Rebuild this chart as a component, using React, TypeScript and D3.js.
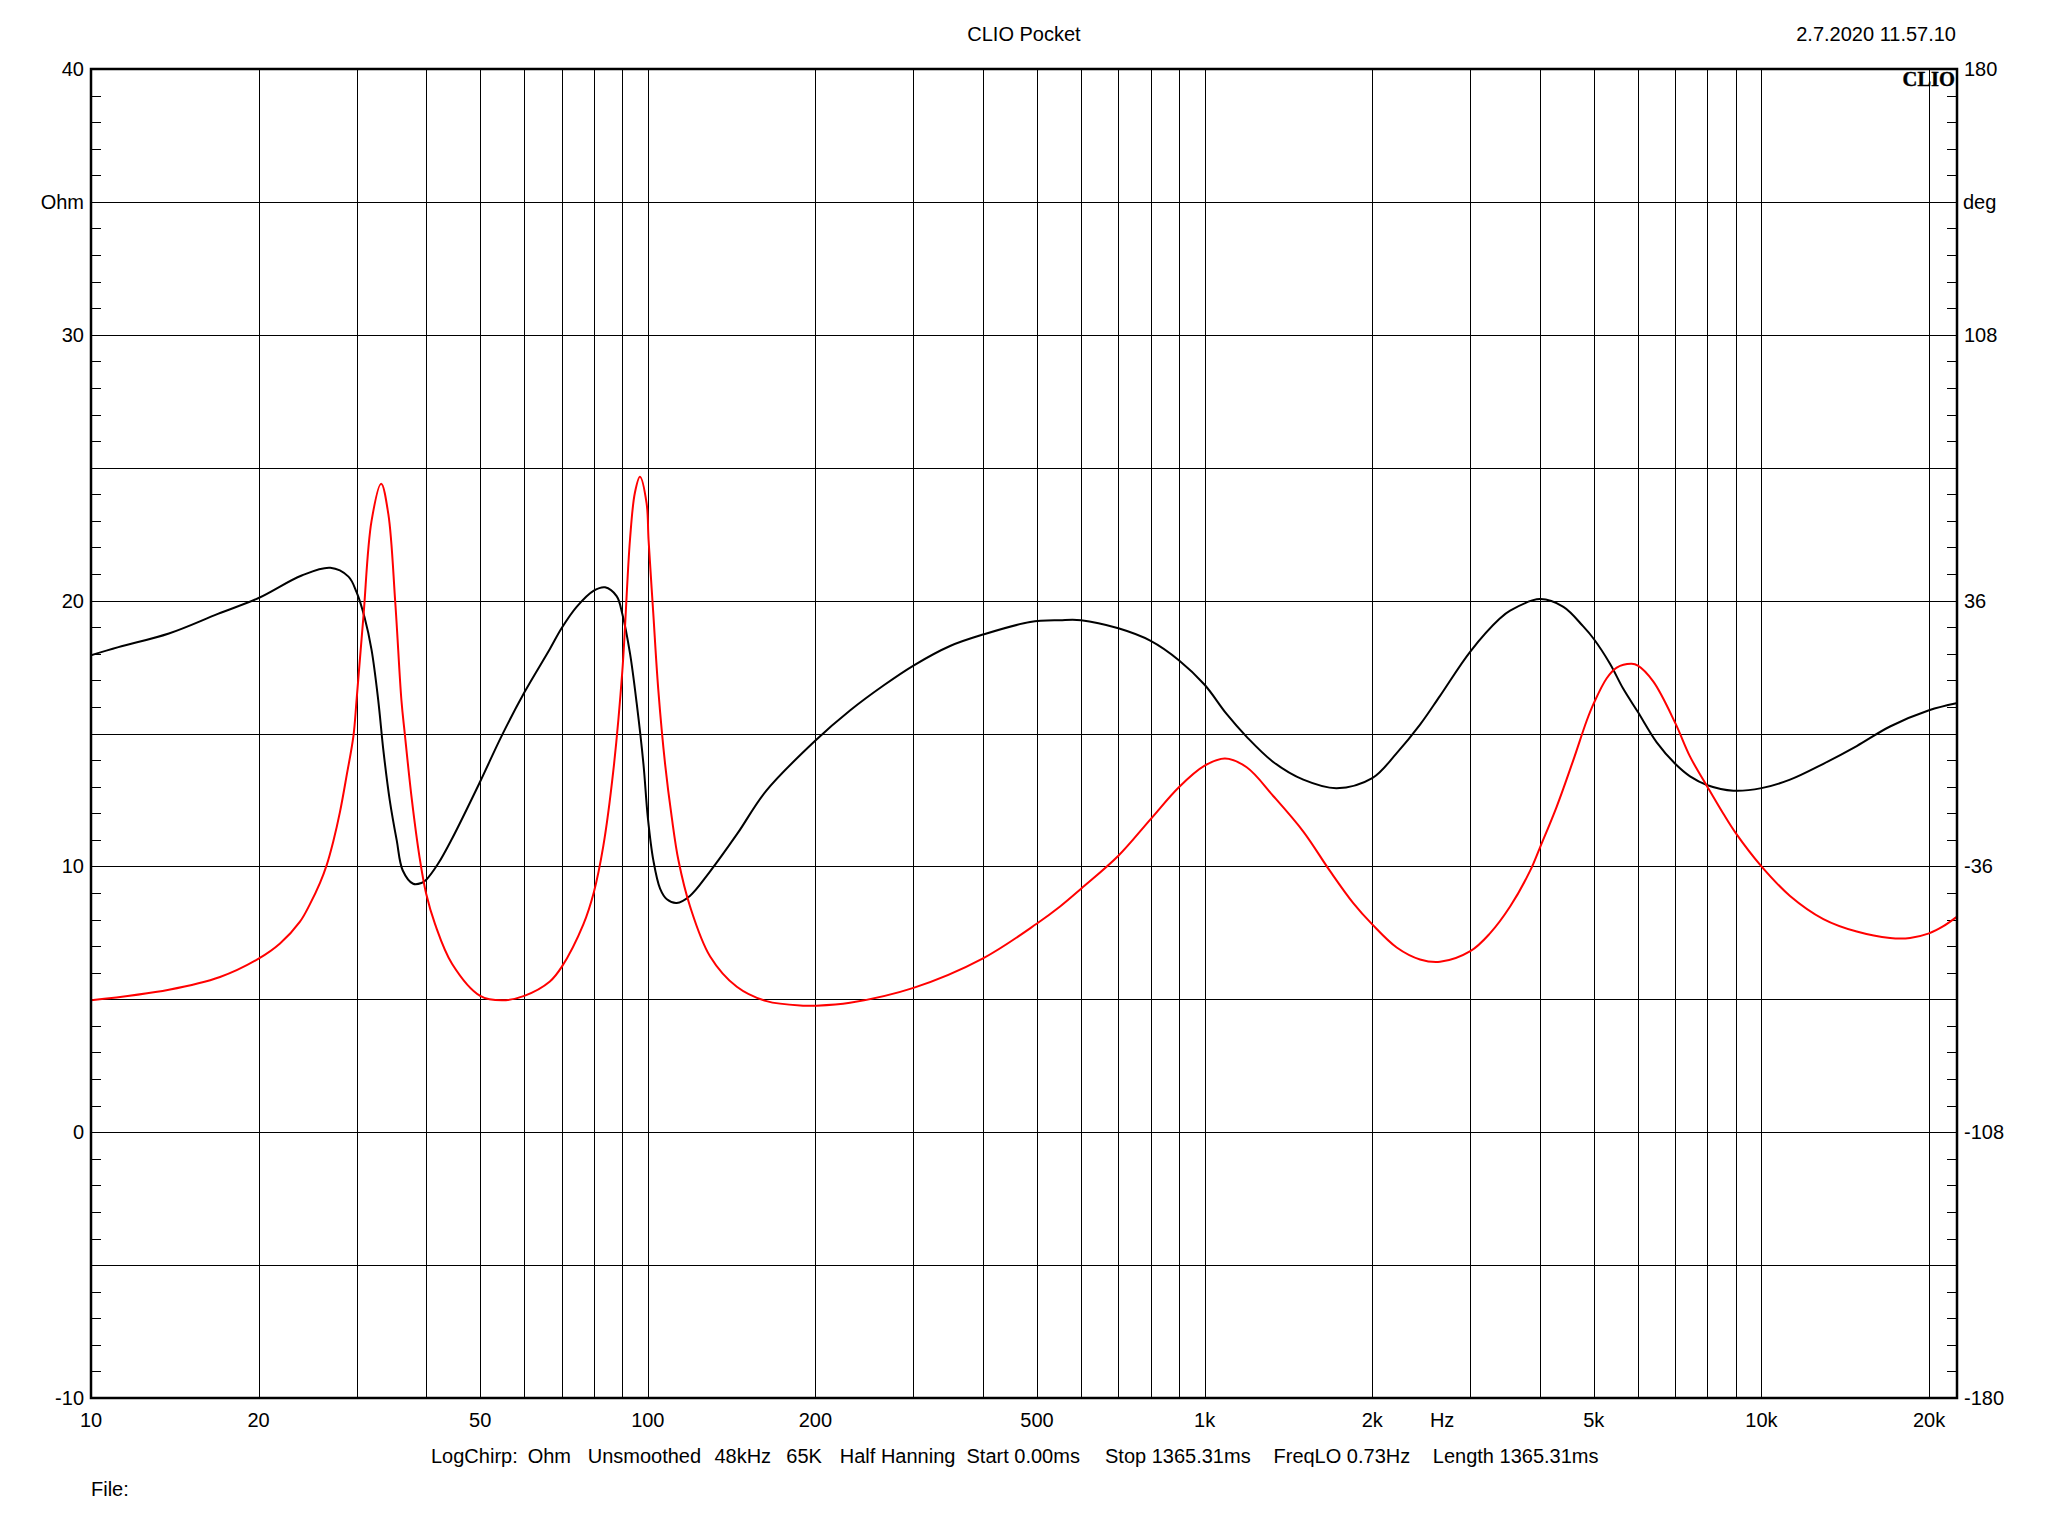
import React from "react";
import * as d3 from "d3";

// ---- Data ----
const impFreq = [10, 13.8, 17.05, 20, 21.85, 23.73, 24.73, 25.78, 26.5, 27.24, 28.0, 28.8, 29.6, 30, 30.85, 31.9, 33.2, 34.2, 35.2, 36.1, 36.6, 37.7, 38.9, 40, 41.5, 44.5, 50, 54.7, 60, 66.7, 70, 76.6, 80, 83.2, 86.7, 90, 92.9, 94.8, 96.8, 99.5, 100.3, 102.3, 104.4, 107.4, 110.4, 113.5, 119.1, 129.4, 144.5, 163.4, 190, 200, 230.7, 300, 400, 500, 550, 600, 700, 800, 900, 1000, 1088, 1190, 1328, 1504, 1679, 1849, 2000, 2213, 2437, 2647, 3000, 3254, 3537, 3841, 4000, 4289, 4592, 4853, 5000, 5274, 5497, 5848, 6000, 6396, 7000, 7444, 8000, 8544, 9000, 10000, 11255, 12920, 14830, 17020, 18490, 20000, 21220, 22390];
const impOhm = [4.96, 5.36, 5.84, 6.53, 7.1, 7.92, 8.58, 9.38, 10.05, 10.95, 12.05, 13.45, 14.9, 16.3, 19.4, 22.99, 24.4, 23.25, 19.9, 16.25, 15.0, 12.49, 10.36, 8.96, 7.82, 6.34, 5.13, 4.96, 5.13, 5.67, 6.21, 7.82, 9.03, 10.77, 13.59, 17.35, 22.3, 24.06, 24.66, 23.66, 22.3, 19.5, 16.68, 13.86, 11.85, 10.23, 8.49, 6.61, 5.47, 4.93, 4.76, 4.76, 4.87, 5.43, 6.54, 7.85, 8.49, 9.16, 10.4, 11.78, 12.99, 13.79, 14.06, 13.73, 12.65, 11.31, 9.83, 8.62, 7.82, 6.95, 6.5, 6.41, 6.81, 7.48, 8.49, 9.83, 10.7, 12.25, 13.99, 15.47, 16.14, 17.08, 17.48, 17.62, 17.55, 16.95, 15.4, 14.13, 12.99, 11.98, 11.24, 10.0, 8.89, 8.02, 7.55, 7.31, 7.31, 7.48, 7.75, 8.09];

const phaseFreq = [10, 11.2, 13.8, 16.9, 20, 23.9, 26.9, 29, 30, 31, 31.9, 32.8, 33.5, 34.4, 35.4, 36.3, 37.9, 39.2, 40, 42, 44.5, 50, 54.7, 60, 66.7, 70, 74.5, 80, 83.8, 87.9, 90, 92.9, 95.5, 98.2, 100, 102.3, 105.2, 108.2, 112.7, 119, 129, 145, 163, 200, 231, 265, 300, 349, 400, 486, 550, 600, 700, 800, 900, 1000, 1095, 1190, 1328, 1504, 1726, 2000, 2213, 2437, 2647, 3000, 3393, 3537, 4000, 4409, 4786, 5000, 5346, 5648, 6000, 6485, 7000, 7444, 8000, 8905, 10000, 11255, 12920, 14830, 17020, 20000, 22390];
const phaseDeg = [21.2, 23.4, 27.1, 32.4, 36.7, 42.8, 44.9, 42.5, 38.2, 31.4, 22.7, 9.0, -4.5, -18.1, -28.9, -37.1, -40.7, -40.5, -39.6, -35.3, -28.5, -13.0, -0.5, 11.1, 22.9, 28.5, 34.3, 38.7, 39.6, 37.2, 32.4, 21.7, 8.2, -8.2, -22.7, -34.3, -42.0, -44.9, -45.9, -44.0, -37.6, -27.0, -15.6, -1.9, 6.3, 13.0, 18.4, 23.7, 26.8, 30.2, 30.7, 30.7, 28.5, 25.1, 19.8, 13.2, 5.3, -0.9, -7.7, -12.5, -14.8, -12.1, -5.3, 2.4, 10.2, 22.2, 31.2, 33.3, 36.4, 34.3, 29.0, 25.6, 18.9, 12.1, 5.8, -2.4, -8.2, -11.6, -14.0, -15.5, -14.8, -12.5, -8.2, -3.4, 1.9, 6.3, 8.2];

const freqDomain = [10, 22450];
const ohmDomain = [-10, 40];
const degDomain = [-180, 180];

const ohmLabelValues = [40, 30, 20, 10, 0, -10];
const degLabelValues = [180, 108, 36, -36, -108, -180];
const freqLabelValues = [10, 20, 50, 100, 200, 500, 1000, 2000, 5000, 10000, 20000];
const freqLabelTexts = ["10", "20", "50", "100", "200", "500", "1k", "2k", "5k", "10k", "20k"];
const hzLabelFreq = 2670;
const ohmUnitValue = 35;
const degUnitValue = 144;

const footerItems = ["LogChirp:", "Ohm", "Unsmoothed", "48kHz", "65K", "Half Hanning", "Start 0.00ms", "Stop 1365.31ms", "FreqLO 0.73Hz", "Length 1365.31ms"];
const footerX = [431, 527.7, 587.7, 714.4, 786.3, 839.8, 966.5, 1105, 1273.5, 1432.8];

const titleText = "CLIO Pocket";
const dateText = "2.7.2020 11.57.10";

export default function App() {
  const W = 2048, H = 1536;
  const L = 91, R = 1957, T = 69, B = 1398;
  const x = d3.scaleLog().domain(freqDomain).range([L, R]);
  const yO = d3.scaleLinear().domain(ohmDomain).range([B, T]);
  const yD = d3.scaleLinear().domain(degDomain).range([B, T]);

  const vGrid: number[] = [];
  for (let dec = 10; dec <= 10000; dec *= 10) {
    for (let m = 1; m <= 9; m++) {
      const f = dec * m;
      if (f > freqDomain[0] && f < freqDomain[1]) vGrid.push(f);
    }
  }
  const hGrid = d3.range(ohmDomain[0] + 5, ohmDomain[1], 5);
  const minorTicks = d3.range(ohmDomain[0] + 1, ohmDomain[1], 1).filter((v) => v % 5 !== 0);

  const font = "'Liberation Sans', Arial, sans-serif";
  const fs = 20;

  const impData = impFreq.map((f, i) => [x(f), yO(impOhm[i])] as [number, number]);
  const phData = phaseFreq.map((f, i) => [x(f), yD(phaseDeg[i])] as [number, number]);
  const line = d3.line().curve(d3.curveCatmullRom.alpha(0.5));

  const px = (v: number) => Math.round(v) + 0.5;

  return (
    <div style={{ position: "absolute", left: 0, top: 0, width: W, height: H, background: "#fff" }}>
      <svg width={W} height={H} style={{ display: "block" }} fontFamily={font}>
        <rect x={0} y={0} width={W} height={H} fill="#fff" />
        <defs>
          <clipPath id="plotclip">
            <rect x={L} y={T} width={R - L} height={B - T} />
          </clipPath>
        </defs>
        <g shapeRendering="crispEdges" stroke="#000" strokeWidth={1}>
          {vGrid.map((f) => (
            <line key={"v" + f} x1={px(x(f))} x2={px(x(f))} y1={T} y2={B} />
          ))}
          {hGrid.map((v) => (
            <line key={"h" + v} x1={L} x2={R} y1={px(yO(v))} y2={px(yO(v))} />
          ))}
          {minorTicks.map((v) => (
            <line key={"tl" + v} x1={L} x2={L + 10} y1={px(yO(v))} y2={px(yO(v))} />
          ))}
          {minorTicks.map((v) => (
            <line key={"tr" + v} x1={R - 10} x2={R} y1={px(yO(v))} y2={px(yO(v))} />
          ))}
        </g>
        <g clipPath="url(#plotclip)" fill="none" strokeWidth={2} strokeLinejoin="round">
          <path d={line(phData) || ""} stroke="#000" />
          <path d={line(impData) || ""} stroke="#ff0000" />
        </g>
        <rect x={L} y={T} width={R - L} height={B - T} fill="none" stroke="#000" strokeWidth={2.5} />
        <text x={R - 2} y={86} textAnchor="end" fontFamily="'Liberation Serif', 'DejaVu Serif', serif" fontWeight="bold" fontSize={20.5} stroke="#000" strokeWidth={0.4}>CLIO</text>

        <g fontSize={fs} textAnchor="end" fill="#000">
          {ohmLabelValues.map((v) => (
            <text key={"lo" + v} x={84} y={yO(v) + 7}>{v}</text>
          ))}
          <text x={84} y={yO(ohmUnitValue) + 7}>Ohm</text>
        </g>
        <g fontSize={fs} textAnchor="start" fill="#000">
          {degLabelValues.map((v) => (
            <text key={"rd" + v} x={1964} y={yD(v) + 7}>{v}</text>
          ))}
          <text x={1963} y={yD(degUnitValue) + 7}>deg</text>
        </g>
        <g fontSize={fs} textAnchor="middle" fill="#000">
          {freqLabelValues.map((f, i) => (
            <text key={"f" + f} x={x(f)} y={1427}>{freqLabelTexts[i]}</text>
          ))}
          <text x={x(hzLabelFreq)} y={1427}>Hz</text>
        </g>
        <text x={1024} y={41} fontSize={fs} textAnchor="middle">{titleText}</text>
        <text x={1956} y={41} fontSize={fs} textAnchor="end">{dateText}</text>
        <g fontSize={fs} fill="#000">
          {footerItems.map((t, i) => (
            <text key={"ft" + i} x={footerX[i]} y={1463}>{t}</text>
          ))}
        </g>
        <text x={91} y={1496} fontSize={fs}>File:</text>
      </svg>
    </div>
  );
}
